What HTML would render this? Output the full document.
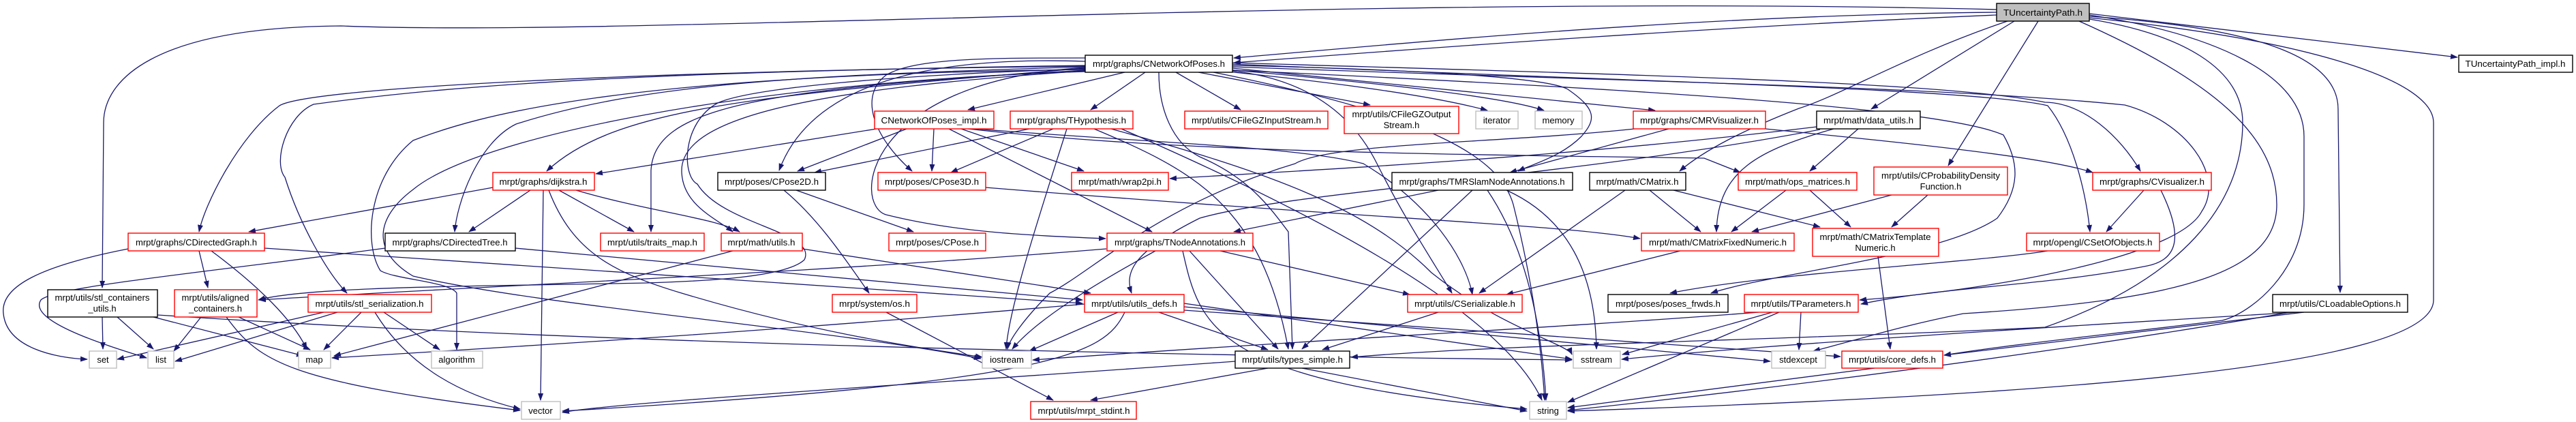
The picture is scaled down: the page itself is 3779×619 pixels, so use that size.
<!DOCTYPE html>
<html><head><meta charset="utf-8"><style>
html,body{margin:0;padding:0;background:#fff;}
svg{display:block;}
text{font-family:"Liberation Sans",Arial,sans-serif;font-size:13px;fill:#000;}
.e{fill:none;stroke:#191970;stroke-width:1.3;marker-end:url(#a);}
.r{fill:#fff;stroke:#ff0000;stroke-width:1.4;}
.b{fill:#fff;stroke:#000;stroke-width:1.4;}
.g{fill:#fff;stroke:#bfbfbf;stroke-width:1.4;}
</style></head><body>
<svg width="3779" height="619" viewBox="0 0 3779 619" xmlns="http://www.w3.org/2000/svg">
<defs><marker id="a" markerWidth="11" markerHeight="8" refX="10" refY="4" orient="auto" markerUnits="userSpaceOnUse"><path d="M0,0 L11,4 L0,8 z" fill="#191970"/></marker></defs>
<g>
<!-- TUncertaintyPath edges -->
<path class="e" d="M2929 18 C2500 22 2100 60 1810 85"/>
<path class="e" d="M2929 22 C2500 40 2100 70 1810 92"/>
<path class="e" d="M2929 14 C2000 -10 900 55 500 38 C220 40 152 120 152 180 L150 422"/>
<path class="e" d="M2955 31 L2745 160"/>
<path class="e" d="M2945 31 C2800 80 2700 140 2639 159 C2560 190 2500 220 2464 251"/>
<path class="e" d="M2990 31 L2858 243"/>
<path class="e" d="M3065 20 L3605 84"/>
<path class="e" d="M3065 24 C3300 40 3430 80 3430 160 L3433 429"/>
<path class="e" d="M3065 26 C3400 60 3570 120 3570 180 L3570 440 C3570 540 3000 580 2300 603"/>
<path class="e" d="M3050 31 C3250 120 3340 200 3340 300 C3340 400 3200 440 2880 460 C2780 480 2720 500 2660 515"/>
<path class="e" d="M3065 22 C3250 50 3380 110 3380 200 L3380 300 C3380 400 3300 460 3260 470 C3100 490 2950 505 2852 521"/>
<path class="e" d="M3065 28 C3200 50 3290 100 3290 180 C3290 300 3200 410 3000 480 C2600 500 2200 505 1982 524"/>
<!-- CNetworkOfPoses edges -->
<path class="e" d="M1650 106 L1420 161"/>
<path class="e" d="M1680 106 L1600 161"/>
<path class="e" d="M1725 106 L1820 161"/>
<path class="e" d="M1758 106 L2010 154"/>
<path class="e" d="M1790 104 C1950 120 2100 140 2182 162"/>
<path class="e" d="M1800 102 C2000 120 2200 140 2265 162"/>
<path class="e" d="M1808 100 L2428 162"/>
<path class="e" d="M1592 90 C1300 80 1180 150 1143 250"/>
<path class="e" d="M1592 85 C1450 85 1344 85 1300 110 C1260 140 1280 200 1338 251"/>
<path class="e" d="M1592 99 C1265 120 1250 300 1300 315 C1400 340 1500 345 1622 350"/>
<path class="e" d="M1592 100 C1100 140 900 160 802 251"/>
<path class="e" d="M1592 97 C900 105 450 130 410 155 C350 200 300 300 292 340"/>
<path class="e" d="M1592 98 C1200 110 950 120 757 182 C700 210 670 300 667 340"/>
<path class="e" d="M1592 103 C1100 130 960 160 955 250 L955 340"/>
<path class="e" d="M1592 104 C1200 130 1000 170 1000 250 C1000 300 1050 320 1075 340"/>
<path class="e" d="M1592 96 C1000 105 700 120 460 153 C420 170 400 238 418 260 C440 330 480 400 509 430"/>
<path class="e" d="M1592 101 C1300 110 1100 130 1053 151 C1000 180 1000 258 1023 270 C1060 330 1200 340 1180 381 C1150 410 1000 413 950 415 C700 420 450 420 379 440"/>
<path class="e" d="M1592 102 C900 110 700 170 606 206 C540 260 533 357 558 397 C580 410 660 413 670 430 L670 513"/>
<path class="e" d="M1592 105 C1100 120 700 200 606 278 C550 320 545 369 606 405 C800 450 1200 480 1439 526"/>
<path class="e" d="M1808 96 C2000 100 2264 110 2300 131 C2342 160 2342 175 2320 200 C2290 230 2250 240 2227 251"/>
<path class="e" d="M1808 92 C2400 110 2850 120 3000 150 C3057 151 3110 200 3140 251"/>
<path class="e" d="M1808 94 C2400 120 2900 130 3004 155 C3040 200 3060 280 3066 340"/>
<path class="e" d="M1808 98 C2400 120 2850 127 3117 154 C3206 178 3265 257 3230 310 C3194 380 2900 428 2728 440"/>
<path class="e" d="M1808 103 C2400 130 2850 158 2939 198 C2963 240 2963 277 2930 320 C2850 376 2600 400 2510 430"/>
<path class="e" d="M1808 104 C1950 120 2000 200 2020 240 C2060 320 2100 380 2130 430"/>
<path class="e" d="M1700 106 C1700 160 1720 210 1760 230 C1830 260 1860 300 1890 340 L1896 512"/>
<path class="e" d="M1780 106 C2100 170 2200 230 2220 300 C2250 420 2262 520 2266 587"/>
<!-- row2 edges -->
<path class="e" d="M1330 189 L1170 251"/>
<path class="e" d="M1370 189 L1367 251"/>
<path class="e" d="M1410 189 L1590 251"/>
<path class="e" d="M1392 189 L1690 340"/>
<path class="e" d="M1420 189 C1700 220 2000 225 2500 232 L2553 253"/>
<path class="e" d="M1286 189 C1100 220 950 242 874 255"/>
<path class="e" d="M1430 189 C1700 210 1900 215 2000 240 C2100 300 2150 380 2160 432"/>
<path class="e" d="M1510 189 L1195 253"/>
<path class="e" d="M1545 189 L1395 253"/>
<path class="e" d="M1565 189 C1530 300 1480 450 1476 512"/>
<path class="e" d="M1605 189 C1750 250 1850 300 1890 512"/>
<path class="e" d="M1630 189 C1850 250 2000 300 2100 400 C2200 480 2300 505 2306 520"/>
<path class="e" d="M1645 189 C1900 300 2200 450 2262 587"/>
<path class="e" d="M2448 189 L2215 253"/>
<path class="e" d="M2398 189 C2200 210 1950 210 1900 240 C1700 300 1600 400 1540 430 C1500 470 1480 500 1478 512"/>
<path class="e" d="M2590 189 C2800 210 3000 230 3070 253"/>
<path class="e" d="M2726 189 L2655 251"/>
<path class="e" d="M2690 189 C2580 220 2520 250 2518 340"/>
<path class="e" d="M2665 186 C2300 230 2000 245 1716 262"/>
<path class="e" d="M2670 190 C2300 260 1900 280 1760 320 C1660 370 1650 400 1660 430"/>
<!-- row3 edges -->
<path class="e" d="M723 275 L365 340"/>
<path class="e" d="M778 279 L688 340"/>
<path class="e" d="M820 279 L930 340"/>
<path class="e" d="M845 279 C950 310 1050 320 1085 340"/>
<path class="e" d="M797 279 L793 587"/>
<path class="e" d="M805 279 C840 370 900 400 1000 430 C1200 490 1350 510 1441 524"/>
<path class="e" d="M1168 279 L1340 340"/>
<path class="e" d="M1150 279 C1200 320 1240 380 1275 430"/>
<path class="e" d="M1446 275 C2000 320 2300 330 2406 350"/>
<path class="e" d="M2110 279 L1810 340"/>
<path class="e" d="M2160 279 L1910 512"/>
<path class="e" d="M2182 279 C2230 350 2260 450 2268 587"/>
<path class="e" d="M2210 279 C2300 320 2340 400 2342 512"/>
<path class="e" d="M2420 279 L2495 340"/>
<path class="e" d="M2455 279 L2670 333"/>
<path class="e" d="M2384 279 L2170 430"/>
<path class="e" d="M2620 279 L2540 340"/>
<path class="e" d="M2655 279 L2715 333"/>
<path class="e" d="M2775 286 L2570 340"/>
<path class="e" d="M2828 286 L2775 333"/>
<path class="e" d="M3145 279 L3090 340"/>
<path class="e" d="M3170 279 C3200 340 3200 380 3150 390 C3000 420 2850 420 2730 446"/>
<!-- row4 edges -->
<path class="e" d="M188 365 C60 390 0 420 5 460 C10 510 80 525 128 527"/>
<path class="e" d="M292 368 L305 422"/>
<path class="e" d="M310 368 C380 420 430 470 450 512"/>
<path class="e" d="M388 364 L1588 445"/>
<path class="e" d="M565 364 C300 400 80 420 60 440 C40 470 150 505 215 525"/>
<path class="e" d="M756 364 L1588 440"/>
<path class="e" d="M1177 365 L1600 430"/>
<path class="e" d="M1075 368 L490 522"/>
<path class="e" d="M1623 365 C1200 400 700 420 380 440"/>
<path class="e" d="M1695 368 C1600 420 1520 470 1485 512"/>
<path class="e" d="M1745 368 L1875 512"/>
<path class="e" d="M1790 368 L2068 432"/>
<path class="e" d="M1735 368 C1760 480 1780 560 2240 600"/>
<path class="e" d="M2465 368 L2210 432"/>
<path class="e" d="M2755 376 L2773 512"/>
<path class="e" d="M3004 368 C2900 385 2600 400 2450 430"/>
<!-- row5 edges -->
<path class="e" d="M150 465 L151 512"/>
<path class="e" d="M172 465 L225 512"/>
<path class="e" d="M225 465 L445 522"/>
<path class="e" d="M231 462 C800 500 1600 520 2306 528"/>
<path class="e" d="M295 465 L255 515"/>
<path class="e" d="M350 465 L455 513"/>
<path class="e" d="M332 465 C380 530 420 560 763 602"/>
<path class="e" d="M475 458 L172 527"/>
<path class="e" d="M495 458 L257 530"/>
<path class="e" d="M530 458 L475 513"/>
<path class="e" d="M563 458 L645 513"/>
<path class="e" d="M550 458 C600 540 680 580 763 600"/>
<path class="e" d="M1300 458 L1545 587"/>
<path class="e" d="M1640 458 L1510 515"/>
<path class="e" d="M1700 458 L1860 513"/>
<path class="e" d="M1650 458 C1620 520 1550 560 825 603"/>
<path class="e" d="M1591 446 C1200 480 900 500 487 525"/>
<path class="e" d="M1737 445 L2306 527"/>
<path class="e" d="M1737 450 L2597 530"/>
<path class="e" d="M1737 455 L2700 523"/>
<path class="e" d="M2110 458 L1940 513"/>
<path class="e" d="M2600 458 L2380 520"/>
<path class="e" d="M2642 458 L2639 513"/>
<path class="e" d="M2610 458 L2300 590"/>
<path class="e" d="M2580 458 C2300 480 1900 500 1515 528"/>
<path class="e" d="M3380 458 L2852 521"/>
<path class="e" d="M3370 458 C3000 480 2600 505 2379 527"/>
<path class="e" d="M3360 458 C3000 520 2600 570 2300 602"/>
<path class="e" d="M1910 540 L2240 603"/>
<path class="e" d="M1860 540 L1600 587"/>
<path class="e" d="M2750 540 L2300 598"/>
<path class="e" d="M1812 530 C1400 560 900 590 825 605"/>
</g>
<g>
<rect x="2929" y="5" width="136" height="26" fill="#bfbfbf" stroke="#000" stroke-width="1.4"/><text x="2997" y="23" text-anchor="middle" textLength="116" lengthAdjust="spacingAndGlyphs">TUncertaintyPath.h</text>
<rect class="b" x="1592" y="81" width="216" height="25"/><text x="1700" y="98" text-anchor="middle" textLength="194" lengthAdjust="spacingAndGlyphs">mrpt/graphs/CNetworkOfPoses.h</text>
<rect class="b" x="3607" y="81" width="167" height="25"/><text x="3690" y="98" text-anchor="middle" textLength="147" lengthAdjust="spacingAndGlyphs">TUncertaintyPath_impl.h</text>

<rect class="r" x="1283" y="163" width="175" height="26"/><text x="1370" y="181" text-anchor="middle" textLength="155" lengthAdjust="spacingAndGlyphs">CNetworkOfPoses_impl.h</text>
<rect class="r" x="1482" y="163" width="180" height="26"/><text x="1572" y="181" text-anchor="middle" textLength="160" lengthAdjust="spacingAndGlyphs">mrpt/graphs/THypothesis.h</text>
<rect class="r" x="1738" y="163" width="210" height="26"/><text x="1843" y="181" text-anchor="middle" textLength="190" lengthAdjust="spacingAndGlyphs">mrpt/utils/CFileGZInputStream.h</text>
<rect class="r" x="1972" y="156" width="168" height="40"/><text x="2056" y="172" text-anchor="middle" textLength="145" lengthAdjust="spacingAndGlyphs">mrpt/utils/CFileGZOutput</text><text x="2056" y="188" text-anchor="middle">Stream.h</text>
<rect class="g" x="2165" y="163" width="62" height="26"/><text x="2196" y="181" text-anchor="middle">iterator</text>
<rect class="g" x="2252" y="163" width="69" height="26"/><text x="2286" y="181" text-anchor="middle">memory</text>
<rect class="r" x="2396" y="163" width="194" height="26"/><text x="2493" y="181" text-anchor="middle" textLength="174" lengthAdjust="spacingAndGlyphs">mrpt/graphs/CMRVisualizer.h</text>
<rect class="b" x="2665" y="163" width="152" height="26"/><text x="2741" y="181" text-anchor="middle" textLength="132" lengthAdjust="spacingAndGlyphs">mrpt/math/data_utils.h</text>

<rect class="r" x="723" y="253" width="149" height="26"/><text x="797" y="271" text-anchor="middle" textLength="129" lengthAdjust="spacingAndGlyphs">mrpt/graphs/dijkstra.h</text>
<rect class="b" x="1053" y="253" width="158" height="26"/><text x="1132" y="271" text-anchor="middle" textLength="138" lengthAdjust="spacingAndGlyphs">mrpt/poses/CPose2D.h</text>
<rect class="r" x="1288" y="253" width="158" height="26"/><text x="1367" y="271" text-anchor="middle" textLength="138" lengthAdjust="spacingAndGlyphs">mrpt/poses/CPose3D.h</text>
<rect class="r" x="1572" y="253" width="142" height="26"/><text x="1643" y="271" text-anchor="middle" textLength="122" lengthAdjust="spacingAndGlyphs">mrpt/math/wrap2pi.h</text>
<rect class="b" x="2042" y="253" width="265" height="26"/><text x="2174" y="271" text-anchor="middle" textLength="243" lengthAdjust="spacingAndGlyphs">mrpt/graphs/TMRSlamNodeAnnotations.h</text>
<rect class="b" x="2332" y="253" width="141" height="26"/><text x="2402" y="271" text-anchor="middle" textLength="121" lengthAdjust="spacingAndGlyphs">mrpt/math/CMatrix.h</text>
<rect class="r" x="2550" y="253" width="174" height="26"/><text x="2637" y="271" text-anchor="middle" textLength="154" lengthAdjust="spacingAndGlyphs">mrpt/math/ops_matrices.h</text>
<rect class="r" x="2749" y="245" width="196" height="41"/><text x="2847" y="262" text-anchor="middle" textLength="174" lengthAdjust="spacingAndGlyphs">mrpt/utils/CProbabilityDensity</text><text x="2847" y="278" text-anchor="middle">Function.h</text>
<rect class="r" x="3070" y="253" width="174" height="26"/><text x="3157" y="271" text-anchor="middle" textLength="154" lengthAdjust="spacingAndGlyphs">mrpt/graphs/CVisualizer.h</text>

<rect class="r" x="188" y="342" width="200" height="26"/><text x="288" y="360" text-anchor="middle" textLength="178" lengthAdjust="spacingAndGlyphs">mrpt/graphs/CDirectedGraph.h</text>
<rect class="b" x="565" y="342" width="191" height="26"/><text x="660" y="360" text-anchor="middle" textLength="169" lengthAdjust="spacingAndGlyphs">mrpt/graphs/CDirectedTree.h</text>
<rect class="r" x="881" y="342" width="152" height="26"/><text x="957" y="360" text-anchor="middle" textLength="132" lengthAdjust="spacingAndGlyphs">mrpt/utils/traits_map.h</text>
<rect class="r" x="1058" y="342" width="119" height="26"/><text x="1117" y="360" text-anchor="middle" textLength="99" lengthAdjust="spacingAndGlyphs">mrpt/math/utils.h</text>
<rect class="r" x="1304" y="342" width="142" height="26"/><text x="1375" y="360" text-anchor="middle" textLength="122" lengthAdjust="spacingAndGlyphs">mrpt/poses/CPose.h</text>
<rect class="r" x="1624" y="342" width="214" height="26"/><text x="1731" y="360" text-anchor="middle" textLength="192" lengthAdjust="spacingAndGlyphs">mrpt/graphs/TNodeAnnotations.h</text>
<rect class="r" x="2408" y="342" width="224" height="26"/><text x="2520" y="360" text-anchor="middle" textLength="202" lengthAdjust="spacingAndGlyphs">mrpt/math/CMatrixFixedNumeric.h</text>
<rect class="r" x="2659" y="335" width="185" height="41"/><text x="2751" y="352" text-anchor="middle" textLength="163" lengthAdjust="spacingAndGlyphs">mrpt/math/CMatrixTemplate</text><text x="2751" y="368" text-anchor="middle">Numeric.h</text>
<rect class="r" x="2973" y="342" width="195" height="26"/><text x="3070" y="360" text-anchor="middle" textLength="175" lengthAdjust="spacingAndGlyphs">mrpt/opengl/CSetOfObjects.h</text>

<rect class="b" x="70" y="425" width="161" height="40"/><text x="150" y="441" text-anchor="middle" textLength="139" lengthAdjust="spacingAndGlyphs">mrpt/utils/stl_containers</text><text x="150" y="457" text-anchor="middle">_utils.h</text>
<rect class="r" x="256" y="425" width="121" height="40"/><text x="316" y="441" text-anchor="middle" textLength="99" lengthAdjust="spacingAndGlyphs">mrpt/utils/aligned</text><text x="316" y="457" text-anchor="middle">_containers.h</text>
<rect class="r" x="452" y="432" width="181" height="26"/><text x="542" y="450" text-anchor="middle" textLength="159" lengthAdjust="spacingAndGlyphs">mrpt/utils/stl_serialization.h</text>
<rect class="r" x="1221" y="432" width="124" height="26"/><text x="1283" y="450" text-anchor="middle" textLength="104" lengthAdjust="spacingAndGlyphs">mrpt/system/os.h</text>
<rect class="r" x="1591" y="432" width="146" height="26"/><text x="1664" y="450" text-anchor="middle" textLength="126" lengthAdjust="spacingAndGlyphs">mrpt/utils/utils_defs.h</text>
<rect class="r" x="2065" y="432" width="168" height="26"/><text x="2149" y="450" text-anchor="middle" textLength="148" lengthAdjust="spacingAndGlyphs">mrpt/utils/CSerializable.h</text>
<rect class="b" x="2359" y="432" width="176" height="26"/><text x="2447" y="450" text-anchor="middle" textLength="154" lengthAdjust="spacingAndGlyphs">mrpt/poses/poses_frwds.h</text>
<rect class="r" x="2559" y="432" width="167" height="26"/><text x="2642" y="450" text-anchor="middle" textLength="147" lengthAdjust="spacingAndGlyphs">mrpt/utils/TParameters.h</text>
<rect class="b" x="3334" y="432" width="198" height="26"/><text x="3433" y="450" text-anchor="middle" textLength="178" lengthAdjust="spacingAndGlyphs">mrpt/utils/CLoadableOptions.h</text>

<rect class="g" x="131" y="515" width="40" height="25"/><text x="151" y="532" text-anchor="middle">set</text>
<rect class="g" x="217" y="515" width="38" height="25"/><text x="236" y="532" text-anchor="middle">list</text>
<rect class="g" x="438" y="515" width="47" height="25"/><text x="461" y="532" text-anchor="middle">map</text>
<rect class="g" x="633" y="515" width="75" height="25"/><text x="670" y="532" text-anchor="middle">algorithm</text>
<rect class="g" x="1441" y="515" width="72" height="25"/><text x="1477" y="532" text-anchor="middle">iostream</text>
<rect class="b" x="1812" y="515" width="168" height="25"/><text x="1896" y="532" text-anchor="middle" textLength="148" lengthAdjust="spacingAndGlyphs">mrpt/utils/types_simple.h</text>
<rect class="g" x="2308" y="515" width="69" height="25"/><text x="2342" y="532" text-anchor="middle">sstream</text>
<rect class="g" x="2599" y="515" width="79" height="25"/><text x="2638" y="532" text-anchor="middle">stdexcept</text>
<rect class="r" x="2702" y="515" width="148" height="25"/><text x="2776" y="532" text-anchor="middle" textLength="128" lengthAdjust="spacingAndGlyphs">mrpt/utils/core_defs.h</text>

<rect class="g" x="765" y="589" width="57" height="26"/><text x="793" y="607" text-anchor="middle">vector</text>
<rect class="r" x="1512" y="589" width="155" height="26"/><text x="1590" y="607" text-anchor="middle" textLength="135" lengthAdjust="spacingAndGlyphs">mrpt/utils/mrpt_stdint.h</text>
<rect class="g" x="2244" y="589" width="54" height="26"/><text x="2271" y="607" text-anchor="middle">string</text>
</g>
</svg>
</body></html>
